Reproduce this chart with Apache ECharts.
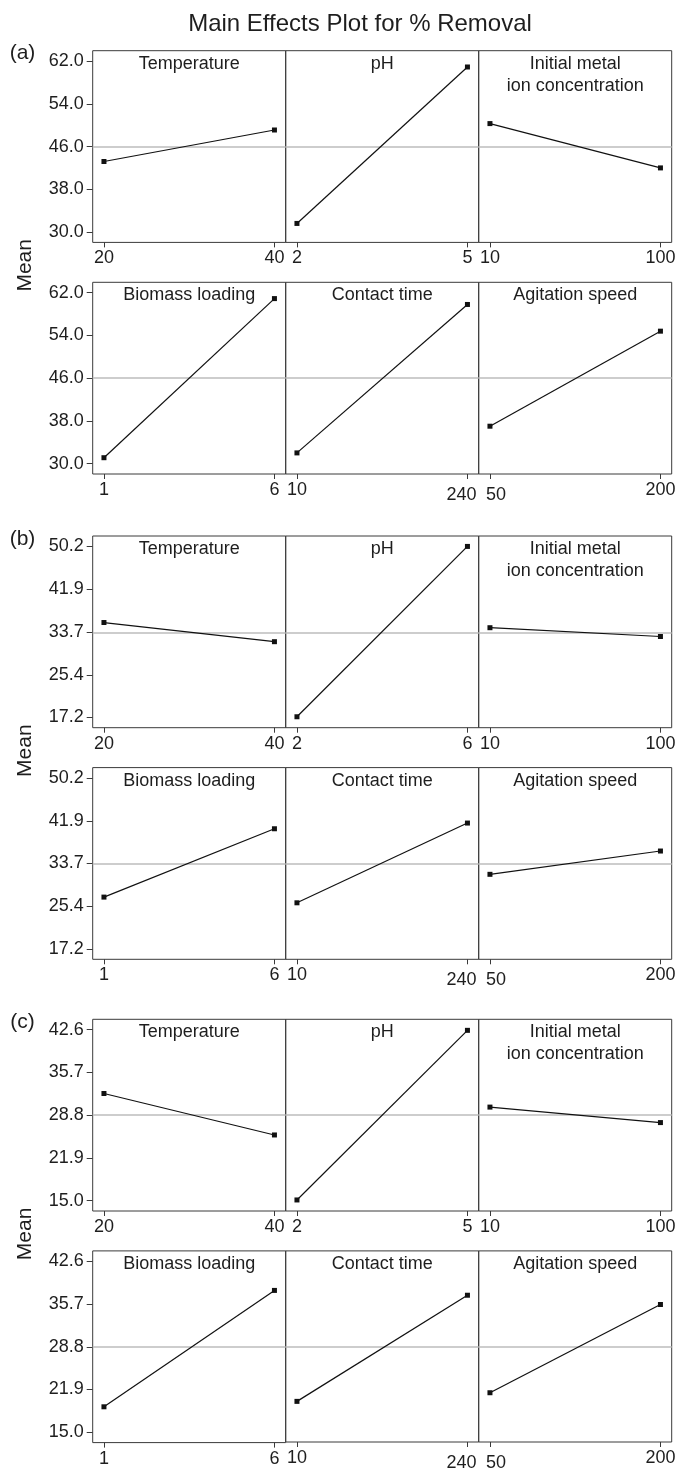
<!DOCTYPE html>
<html>
<head>
<meta charset="utf-8">
<script src="https://cdn.jsdelivr.net/npm/echarts@6/dist/echarts.min.js"></script>
<style>
  html, body { margin: 0; padding: 0; background: #ffffff; }
  #chart { width: 679px; height: 1472px; }
</style>
</head>
<body>
<div id="chart"></div>
<script>
// ---------------- data ----------------
const chartTitle = 'Main Effects Plot for % Removal';
const blockLabels = ['(a)', '(b)', '(c)'];
const factorNames = ['Temperature', 'pH', 'Initial metal\nion concentration',
                     'Biomass loading', 'Contact time', 'Agitation speed'];

// factor levels (x values) per block
const levelsA = [[20, 40], [2, 5], [10, 100], [1, 6], [10, 240], [50, 200]];
const levelsB = [[20, 40], [2, 6], [10, 100], [1, 6], [10, 240], [50, 200]];
const levelsC = [[20, 40], [2, 5], [10, 100], [1, 6], [10, 240], [50, 200]];

// mean % removal at low / high level
const meansA = [[43.2, 49.1], [31.6, 60.9], [50.3, 42.0], [31.1, 60.9], [32.0, 59.8], [37.0, 54.8]];
const meansB = [[35.5, 31.8], [17.3, 50.2], [34.5, 32.8], [27.2, 40.4], [26.1, 41.5], [31.6, 36.1]];
const meansC = [[32.3, 25.6], [15.1, 42.5], [30.1, 27.6], [19.1, 37.9], [19.9, 37.1], [21.3, 35.6]];

// y tick labels per block
const yTicksA = [30.0, 38.0, 46.0, 54.0, 62.0];
const yTicksB = [17.2, 25.4, 33.7, 41.9, 50.2];
const yTicksC = [15.0, 21.9, 28.8, 35.7, 42.6];

// grand mean reference line per block
const grandMeans = [46.05, 33.6, 28.8];

// ---------------- layout ----------------
const FONT = "'Liberation Sans', Arial, sans-serif";
const TXT = '#1e1e1e';
const BORDER = '#3a3a3a';
const L = 92.7, CW = 193, PH = 191.7;
const blockTop = [50.7, 536, 1019.3];
const rowOff = 231.6;
const XPAD = 0.066, YPAD = 0.061;
// labels nudged (lower and apart) in the original: factor index _ level index
const nudged = { '4_1': 'lowL', '5_0': 'lowR' };

const levelsAll = [levelsA, levelsB, levelsC];
const meansAll = [meansA, meansB, meansC];
const ticksAll = [yTicksA, yTicksB, yTicksC];

const grids = [], xAxes = [], yAxes = [], series = [], graphics = [];
let gi = 0;

for (let b = 0; b < 3; b++) {
  const ticks = ticksAll[b];
  const tr = ticks[ticks.length - 1] - ticks[0];
  const ymin = ticks[0] - YPAD * tr, ymax = ticks[ticks.length - 1] + YPAD * tr;
  for (let f = 0; f < 6; f++) {
    const r = Math.floor(f / 3), c = f % 3;
    const top = blockTop[b] + r * rowOff;
    const left = L + c * CW;
    grids.push({ left: left, top: top, width: CW, height: PH, show: true,
                 borderColor: BORDER, borderWidth: 1, backgroundColor: 'transparent',
                 containLabel: false });
    const lv = levelsAll[b][f];
    const xr = lv[1] - lv[0];
    xAxes.push({
      gridIndex: gi, type: 'value',
      min: lv[0] - XPAD * xr, max: lv[1] + XPAD * xr,
      axisLine: { show: false, onZero: false },
      splitLine: { show: false },
      axisTick: { show: true, customValues: lv, length: 5, inside: false,
                  lineStyle: { color: BORDER, width: 1 } },
      axisLabel: {
        customValues: lv, fontSize: 18, fontFamily: FONT, color: TXT, margin: 7,
        formatter: (function (ff, lvv) {
          return function (v) {
            const idx = v === lvv[0] ? 0 : 1;
            const s = String(v);
            const st = nudged[ff + '_' + idx];
            return st ? '{' + st + '|' + s + '}' : s;
          };
        })(f, lv),
        rich: {
          lowL: { fontSize: 18, fontFamily: FONT, color: TXT, padding: [5, 12, 0, 0] },
          lowR: { fontSize: 18, fontFamily: FONT, color: TXT, padding: [5, 0, 0, 12] }
        }
      }
    });
    yAxes.push({
      gridIndex: gi, type: 'value', min: ymin, max: ymax,
      show: c === 0,
      axisLine: { show: false, onZero: false },
      splitLine: { show: false },
      axisTick: { show: true, customValues: ticks, length: 6, inside: false,
                  lineStyle: { color: BORDER, width: 1 } },
      axisLabel: { customValues: ticks, fontSize: 18, fontFamily: FONT, color: TXT, margin: 9,
                   formatter: function (v) { return Number(v).toFixed(1); } }
    });
    const m = meansAll[b][f];
    series.push({
      type: 'line', xAxisIndex: gi, yAxisIndex: gi,
      data: [[lv[0], m[0]], [lv[1], m[1]]],
      symbol: 'rect', symbolSize: 5, showSymbol: true,
      lineStyle: { color: '#111', width: 1.2 },
      itemStyle: { color: '#111' },
      z: 3,
      markLine: {
        silent: true, symbol: 'none', label: { show: false },
        lineStyle: { color: '#bcbcbc', width: 1.6, type: 'solid' },
        data: [{ yAxis: grandMeans[b] }],
        z: 2
      }
    });
    graphics.push({
      type: 'text', x: left + CW / 2, y: top + 2,
      style: { text: factorNames[f], font: '18px ' + FONT, fill: TXT,
               textAlign: 'center', textVerticalAlign: 'top', lineHeight: 22 }
    });
    gi++;
  }
  graphics.push({
    type: 'text', x: 22.5, y: blockTop[b] + 3,
    style: { text: blockLabels[b], font: '21px ' + FONT, fill: TXT,
             textAlign: 'center', textVerticalAlign: 'middle' }
  });
  graphics.push({
    type: 'text', x: 25, y: blockTop[b] + (rowOff + PH) / 2 + 3, rotation: Math.PI / 2,
    style: { text: 'Mean', font: '21px ' + FONT, fill: TXT,
             textAlign: 'center', textVerticalAlign: 'middle' }
  });
}

graphics.push({
  type: 'text', x: 360, y: 24,
  style: { text: chartTitle, font: '24px ' + FONT, fill: TXT,
           textAlign: 'center', textVerticalAlign: 'middle' }
});

const chart = echarts.init(document.getElementById('chart'), null, { renderer: 'canvas' });
chart.setOption({
  animation: false,
  backgroundColor: '#ffffff',
  grid: grids,
  xAxis: xAxes,
  yAxis: yAxes,
  series: series,
  graphic: graphics
});
</script>
</body>
</html>
